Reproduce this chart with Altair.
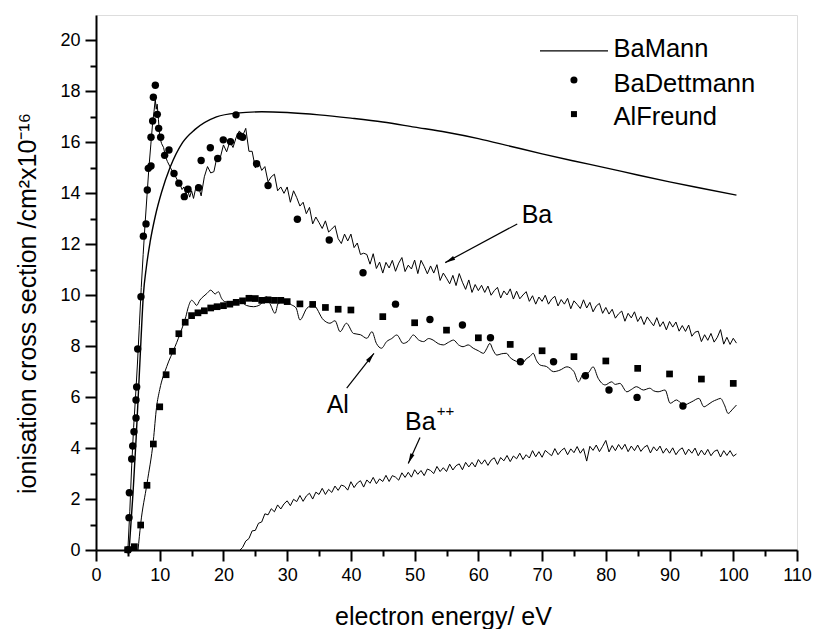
import math
import altair as alt
import pandas as pd

FONT = "Liberation Sans"
W, H = 701, 535
XDOM, YDOM = [0, 110], [0, 21]
KX, KY = W / (XDOM[1] - XDOM[0]), H / (YDOM[1] - YDOM[0])

# ---------------- data ----------------
mann_x = [5.2, 5.8, 6.3, 6.7, 7.05, 7.43, 7.9, 8.5, 9.3, 10.3, 11.6, 13.6, 15.5, 18.9, 22, 26, 30,
          35, 40, 45, 50, 55, 60, 65, 70, 75, 80, 85, 90, 95, 100.5]
mann_y = [0, 2.2, 4.4, 6.4, 8.2, 10.0, 11.1, 12.1, 13.1, 14.05, 15.0, 16.0, 16.5, 17.0, 17.15, 17.2, 17.17,
          17.08, 16.95, 16.8, 16.6, 16.4, 16.15, 15.85, 15.55, 15.27, 15.0, 14.72, 14.45, 14.2, 13.93]

dett_x = [5.07, 5.18, 5.23, 5.6, 5.76, 5.96, 6.28, 6.28, 6.38, 6.54, 7.06, 7.43, 7.85, 8.05, 8.21, 8.63,
          8.63, 8.89, 9.0, 9.31, 9.62, 9.83, 10.15, 10.77, 11.45, 12.24, 13.0, 13.86, 14.43, 16.1, 16.5,
          17.94, 19.1, 19.97, 21.1, 21.97, 22.6, 23.0, 25.2, 27.0, 31.6, 36.6, 41.9, 47.0, 52.4, 57.5,
          61.9, 66.6, 71.8, 76.8, 80.5, 84.9, 92.1]
dett_y = [0.01, 1.27, 2.25, 3.57, 4.08, 4.64, 5.18, 5.89, 6.4, 7.89, 9.94, 12.32, 12.8, 14.13, 14.98, 15.07,
          16.2, 16.84, 17.77, 18.24, 17.1, 16.55, 16.2, 15.49, 15.7, 14.78, 14.4, 13.87, 14.16, 14.22, 15.29,
          15.79, 15.37, 16.1, 16.03, 17.08, 16.25, 16.2, 15.16, 14.31, 12.98, 12.17, 10.88, 9.65, 9.05, 8.83,
          8.33, 7.39, 7.39, 6.84, 6.28, 5.99, 5.65]

freund_x = [4.97, 6.02, 7.01, 8, 9, 10, 11, 12, 13, 14, 15, 16, 17, 18, 19, 20, 21, 22, 23, 24, 25, 26, 27,
            28, 29, 30, 32, 34, 36, 38, 40, 45, 50, 55, 60, 65, 70, 75, 80, 85, 90, 95, 100]
freund_y = [0.01, 0.13, 0.98, 2.54, 4.16, 5.62, 6.88, 7.8, 8.49, 8.94, 9.2, 9.31, 9.39, 9.5, 9.55, 9.59,
            9.65, 9.72, 9.78, 9.88, 9.87, 9.8, 9.82, 9.8, 9.8, 9.75, 9.66, 9.64, 9.52, 9.45, 9.42, 9.16,
            8.92, 8.63, 8.33, 8.07, 7.82, 7.59, 7.42, 7.13, 6.91, 6.71, 6.54]

# measured Ba+ curve: threshold region, then 0.5 eV samples from 16.0 eV
ba_head_x = [5.0, 5.3, 5.6, 5.9, 6.2, 6.5, 6.8, 7.1, 7.4, 7.7, 8.0, 8.3, 8.6, 8.9, 9.1, 9.3, 9.45, 9.6,
             9.8, 10.0, 10.3, 10.6, 10.9, 11.2, 11.6, 12.0, 12.4, 12.8, 13.2, 13.5, 13.8, 14.1, 14.4,
             14.7, 15.0, 15.3, 15.6]
ba_head_y = [0, 1.5, 3.3, 4.8, 6.0, 7.3, 8.8, 10.3, 11.6, 12.8, 13.9, 15.0, 15.9, 16.8, 17.2, 17.7, 17.3,
             17.5, 16.9, 16.2, 15.95, 15.8, 15.45, 15.25, 15.05, 14.85, 14.7, 14.5, 14.35, 14.15, 14.25,
             13.95, 14.1, 13.85, 14.1, 13.8, 14.15]
ba_start, ba_step = 16.0, 0.5
ba_y = [14.35, 13.9, 14.65, 15.05, 14.8, 14.85, 15.45, 15.4, 15.9, 15.63,
        16.03, 15.8, 16.2, 16.45, 16.25, 16.55, 15.65, 15.65, 15.0, 15.27,
        14.9, 15.05, 14.45, 14.65, 14.75, 14.1, 14.25, 14.0, 14.25, 13.65,
        14.1, 13.83, 13.5, 13.65, 13.2, 13.45, 12.8, 13.07, 12.85, 12.62,
        12.92, 12.48, 12.6, 12.73, 12.22, 12.03, 12.4, 12.13, 12.4, 11.87,
        12.05, 11.6, 11.65, 11.6, 11.22, 11.63, 11.05, 11.3, 10.87, 11.29,
        11.07, 11.37, 10.94, 11.26, 11.48, 10.93, 11.18, 11.03, 11.38, 10.85,
        11.37, 11.13, 10.84, 11.15, 10.87, 11.2, 10.58, 10.87, 10.67, 10.45,
        10.78, 10.38, 10.85, 10.51, 10.23, 10.6, 10.11, 10.42, 10.18, 10.39,
        10.11, 10.36, 10.0, 10.18, 10.31, 9.89, 10.17, 10.01, 10.25, 9.85,
        10.16, 9.86, 10.01, 10.14, 9.76, 9.98, 9.65, 9.93, 9.76, 10.0,
        9.65, 9.85, 9.96, 9.58, 9.83, 9.65, 9.88, 9.47, 9.78, 9.64,
        9.48, 9.82, 9.5, 9.72, 9.35, 9.58, 9.68, 9.29, 9.52, 9.26,
        9.45, 9.1, 9.27, 9.38, 8.98, 9.29, 9.11, 9.35, 8.97, 9.17,
        8.85, 9.15, 8.97, 8.8, 9.12, 8.77, 8.96, 8.64, 8.97, 8.75,
        8.95, 8.59, 8.81, 8.58, 8.83, 8.39, 8.55, 8.59, 8.18, 8.45,
        8.23, 8.5, 8.16, 8.35, 8.65, 8.08, 8.35, 8.07, 8.31, 8.12]

al_x = [6.6, 7.0, 8.0, 9.0, 9.5, 10.0, 11.1, 12.4, 13.4, 14.1, 14.5, 15.0, 15.3, 15.8, 16.3, 16.8, 17.4,
        18.0, 18.7, 19.2, 19.7, 20.2, 21.5, 22.6, 23.6, 24.7, 25.7, 26.8, 27.4, 28.1, 28.6, 29.7, 30.7,
        31.4, 32.0, 33.1, 34.1, 35.7, 36.7, 37.5, 38.3, 39.3, 40.4, 41.5, 42.5, 43.3, 44.0, 44.8, 45.6,
        46.4, 47.2, 48.2, 49.0, 49.8, 50.6, 51.4, 52.2, 52.9, 53.7, 54.5, 55.3, 56.1, 56.9, 57.6, 58.4,
        59.2, 60.0, 60.8, 61.3, 61.8, 62.3, 62.9, 63.6, 64.4, 65.0, 65.5, 66.0, 66.5, 67.0, 67.5, 68.1,
        68.6, 69.1, 69.7, 70.7, 71.8, 72.8, 73.9, 75.0, 75.7, 76.5, 77.2, 78.0, 78.8, 79.9, 80.9, 81.5,
        82.2, 83.3, 84.0, 84.8, 85.9, 86.9, 87.5, 88.2, 89.3, 90.1, 91.1, 92.2, 93.5, 94.6, 95.4, 96.0,
        96.7, 97.4, 98.0, 98.6, 99.2, 99.8, 100.5]
al_y = [0, 1.0, 2.6, 4.3, 5.6, 6.3, 7.2, 7.98, 8.63, 9.16, 9.55, 9.8, 9.75, 9.6, 9.81, 9.94, 10.07,
        10.2, 10.05, 10.14, 9.88, 9.75, 9.71, 9.75, 9.6, 9.55, 9.62, 9.94, 9.62, 9.29, 9.68, 9.75, 9.62,
        9.5, 9.03, 9.49, 9.61, 9.03, 8.9, 9.0, 8.57, 8.9, 8.5, 8.45, 8.31, 8.57, 8.11, 7.92, 8.18,
        8.3, 8.44, 8.11, 8.2, 8.44, 8.25, 8.18, 8.3, 8.24, 8.1, 8.05, 8.15, 8.24, 8.05, 7.98, 8.05,
        7.92, 7.82, 7.72, 7.9, 8.11, 7.85, 7.65, 7.7, 7.72, 7.55, 7.46, 7.4, 7.33, 7.35, 7.5, 7.6,
        7.72, 7.45, 7.26, 7.2, 7.0, 7.06, 7.19, 7.0, 6.6, 6.93, 6.95, 7.19, 6.74, 6.48, 6.6, 6.5,
        6.54, 6.21, 6.3, 6.41, 6.28, 6.35, 6.25, 6.21, 6.28, 5.76, 5.89, 5.69, 5.82, 5.95, 5.62, 5.7,
        5.82, 5.9, 5.95, 5.7, 5.36, 5.5, 5.69]

# Ba++ curve: threshold, then 0.5 eV samples from 23.0 eV
bapp_head_x, bapp_head_y = [22.6], [0.0]
bapp_start, bapp_step = 23.0, 0.5
bapp_y = [0.1, 0.35, 0.45, 0.75, 0.77, 1.05, 1.1, 1.42, 1.38, 1.62,
          1.5, 1.77, 1.61, 1.81, 1.93, 1.74, 1.99, 1.9, 2.14, 1.91,
          2.12, 2.23, 2.0, 2.27, 2.18, 2.42, 2.18, 2.38, 2.26, 2.51,
          2.34, 2.55, 2.5, 2.35, 2.68, 2.45, 2.63, 2.72, 2.47, 2.75,
          2.62, 2.85, 2.6, 2.79, 2.69, 2.93, 2.69, 2.92, 2.86, 2.74,
          3.03, 2.85, 3.05, 2.86, 3.15, 2.97, 3.12, 2.92, 3.18, 3.12,
          3.0, 3.28, 3.08, 3.23, 3.08, 3.37, 3.14, 3.31, 3.38, 3.15,
          3.44, 3.26, 3.44, 3.26, 3.55, 3.37, 3.54, 3.32, 3.53, 3.62,
          3.36, 3.63, 3.5, 3.71, 3.47, 3.69, 3.58, 3.8, 3.55, 3.74,
          3.61, 3.9, 3.66, 3.86, 3.64, 3.91, 3.8, 3.7, 3.98, 3.74,
          3.9, 4.0, 3.74, 3.97, 3.82, 4.06, 3.8, 3.98, 3.49, 4.07,
          3.91, 4.12, 3.86, 4.07, 4.3, 3.85, 4.1, 3.9, 4.14, 3.95,
          4.15, 3.86, 4.08, 3.9, 4.12, 3.87, 4.03, 4.11, 3.81, 4.05,
          3.89, 4.08, 3.8, 3.99, 3.8, 4.01, 3.74, 3.92, 4.01, 3.74,
          3.96, 3.8, 4.0, 3.7, 3.92, 3.73, 3.95, 3.7, 3.87, 3.93,
          3.65, 3.9, 3.71, 3.9, 3.68, 3.77]

x_major = list(range(0, 111, 10))
x_minor = list(range(5, 110, 10))
y_major = list(range(0, 21, 2))
y_minor = list(range(1, 20, 2))

legend_labels = ["BaMann", "BaDettmann", "AlFreund"]
ann_labels = ["Ba", "Al", "Ba"]
ann_sup = ["++"]

# ---------------- layout (positions, not data) ----------------
legend_text_x = 81.2
legend_text_y = [19.36, 17.98, 16.68]
legend_line = dict(x=69.67, x2=80.34, y=19.59)
legend_circle = dict(x=75.0, y=18.45)
legend_square = dict(x=75.0, y=17.11)
ann_x, ann_y = [66.8, 36.19, 48.49], [12.83, 5.36, 4.71]
sup_x, sup_y = [53.46], [5.26]
arr_x1, arr_y1 = [66.1, 39.34, 50.84], [12.80, 6.35, 4.42]
arr_x2, arr_y2 = [54.8, 43.62, 49.0], [11.28, 7.72, 3.40]

# ---------------- frames ----------------
mann = pd.DataFrame({"x": mann_x, "y": mann_y})
dett = pd.DataFrame({"x": dett_x, "y": dett_y})
freund = pd.DataFrame({"x": freund_x, "y": freund_y})
ba = pd.DataFrame({"x": ba_head_x + [ba_start + ba_step * i for i in range(len(ba_y))],
                   "y": ba_head_y + ba_y})
al = pd.DataFrame({"x": al_x, "y": al_y})
bapp = pd.DataFrame({"x": bapp_head_x + [bapp_start + bapp_step * i for i in range(len(bapp_y))],
                     "y": bapp_head_y + bapp_y})

xs = alt.Scale(domain=XDOM, nice=False, zero=False)
ys = alt.Scale(domain=YDOM, nice=False, zero=False)

common_axis = dict(grid=False, labelFont=FONT, labelColor="black", tickColor="black",
                   domainColor="black", titleFont=FONT, titleColor="black",
                   titleFontWeight="normal")

x_main = alt.Axis(values=x_major, orient="bottom", title="electron energy/ eV", labelFontSize=18,
                  tickSize=11, tickWidth=2, domainWidth=2, labelPadding=5, labelFlush=False,
                  labelOverlap=False, format="d", titleFontSize=25, titleX=347, titleY=74,
                  titleBaseline="alphabetic", titleAlign="center", **common_axis)
y_main = alt.Axis(values=y_major, orient="left", title="ionisation cross section /cm²x10⁻¹⁶",
                  labelFontSize=18, tickSize=11, tickWidth=2, domainWidth=2, labelPadding=5,
                  labelFlush=False, labelOverlap=False, format="d", titleFontSize=25,
                  titleAngle=270, titleX=-69, titleY=288, titleBaseline="middle",
                  titleAlign="center", **common_axis)
x_min = alt.Axis(values=x_minor, orient="bottom", labels=False, domain=False, tickSize=6,
                 tickWidth=2, title=None, grid=False, tickColor="black")
y_min = alt.Axis(values=y_minor, orient="left", labels=False, domain=False, tickSize=6,
                 tickWidth=2, title=None, grid=False, tickColor="black")


def enc(xaxis=None, yaxis=None):
    return dict(x=alt.X("x:Q", scale=xs, axis=xaxis), y=alt.Y("y:Q", scale=ys, axis=yaxis))


mann_layer = alt.Chart(mann).mark_line(color="black", strokeWidth=1.4, interpolate="monotone").encode(
    **enc(x_main, y_main))
ba_layer = alt.Chart(ba).mark_line(color="black", strokeWidth=1).encode(**enc())
al_layer = alt.Chart(al).mark_line(color="black", strokeWidth=1, interpolate="monotone").encode(**enc())
bapp_layer = alt.Chart(bapp).mark_line(color="black", strokeWidth=1).encode(**enc())
dett_layer = alt.Chart(dett).mark_point(shape="circle", filled=True, size=55, color="black",
                                        opacity=1).encode(**enc(x_min, y_min))
freund_layer = alt.Chart(freund).mark_point(shape="square", filled=True, size=45, color="black",
                                            opacity=1).encode(**enc())

# legend
leg_text = pd.DataFrame({"x": [legend_text_x] * 3, "y": legend_text_y, "t": legend_labels})
leg_text_layer = alt.Chart(leg_text).mark_text(align="left", baseline="alphabetic", font=FONT,
                                               fontSize=25.5, color="black").encode(
    **enc(), text="t:N")
leg_line_layer = alt.Chart(pd.DataFrame([legend_line])).mark_rule(color="black", strokeWidth=1.4).encode(
    x=alt.X("x:Q", scale=xs, axis=None), x2="x2:Q", y=alt.Y("y:Q", scale=ys, axis=None))
leg_circ_layer = alt.Chart(pd.DataFrame([legend_circle])).mark_point(
    shape="circle", filled=True, size=50, color="black", opacity=1).encode(**enc())
leg_sq_layer = alt.Chart(pd.DataFrame([legend_square])).mark_point(
    shape="square", filled=True, size=36, color="black", opacity=1).encode(**enc())

# annotations
ann = pd.DataFrame({"x": ann_x, "y": ann_y, "t": ann_labels})
ann_layer = alt.Chart(ann).mark_text(align="left", baseline="alphabetic", font=FONT, fontSize=25,
                                     color="black").encode(**enc(), text="t:N")
sup = pd.DataFrame({"x": sup_x, "y": sup_y, "t": ann_sup})
sup_layer = alt.Chart(sup).mark_text(align="left", baseline="alphabetic", font=FONT, fontSize=15,
                                     color="black").encode(**enc(), text="t:N")
arr = pd.DataFrame({"x": arr_x1, "y": arr_y1, "x2": arr_x2, "y2": arr_y2})
arr["ang"] = [math.degrees(math.atan2((b - a) * KX, (d - c) * KY)) % 360
              for a, b, c, d in zip(arr_x1, arr_x2, arr_y1, arr_y2)]
arr_line_layer = alt.Chart(arr).mark_rule(color="black", strokeWidth=1.2).encode(
    x=alt.X("x:Q", scale=xs, axis=None), x2="x2:Q",
    y=alt.Y("y:Q", scale=ys, axis=None), y2="y2:Q")
arr_head_layer = alt.Chart(arr).mark_point(shape="M0,0L-0.35,1.6L0.35,1.6Z", filled=True, size=160,
                                           color="black", opacity=1).encode(
    x=alt.X("x2:Q", scale=xs, axis=None), y=alt.Y("y2:Q", scale=ys, axis=None),
    angle=alt.Angle("ang:Q", scale=None))

chart = alt.layer(
    mann_layer, ba_layer, al_layer, bapp_layer, dett_layer, freund_layer,
    leg_line_layer, leg_circ_layer, leg_sq_layer, leg_text_layer,
    arr_line_layer, arr_head_layer, ann_layer, sup_layer,
).resolve_axis(x="independent", y="independent").properties(
    width=W, height=H,
    padding={"left": 96, "top": 15, "right": 17, "bottom": 79},
    autosize=alt.AutoSizeParams(type="none"),
).configure_view(stroke="black", strokeWidth=1).configure(font=FONT)

chart.save("out.html", embed_options={"renderer": "svg", "actions": False})
